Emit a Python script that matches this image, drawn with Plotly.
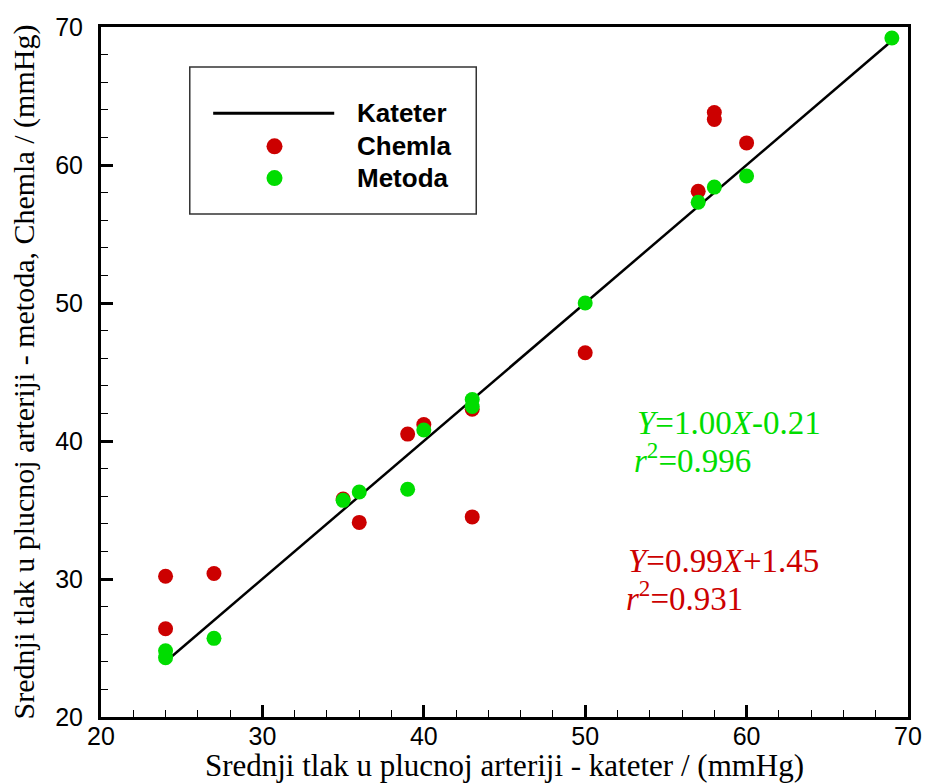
import plotly.graph_objects as go

# Data
kateter_x = [24, 69]
kateter_y = [24, 69]

chemla_x = [24, 24, 27, 35, 36, 39, 40, 43, 43, 50, 57, 58, 58, 60]
chemla_y = [30.2, 26.4, 30.4, 35.8, 34.1, 40.5, 41.2, 42.3, 34.5, 46.4, 58.1, 63.8, 63.3, 61.6]

metoda_x = [24, 24, 27, 35, 36, 39, 40, 43, 43, 50, 57, 58, 60, 69]
metoda_y = [24.8, 24.3, 25.7, 35.7, 36.3, 36.5, 40.8, 43.0, 42.5, 50.0, 57.3, 58.4, 59.2, 69.2]

x_ticks = [20, 30, 40, 50, 60, 70]
y_ticks = [20, 30, 40, 50, 60, 70]

RED = "#CC0000"
GREEN = "#00DD00"
SERIF = "Liberation Serif, Times New Roman, serif"
SANS = "Liberation Sans, Arial, sans-serif"

fig = go.Figure()
fig.add_trace(go.Scatter(x=kateter_x, y=kateter_y, mode="lines", name="Kateter",
                         line=dict(color="black", width=2.5), showlegend=False))
fig.add_trace(go.Scatter(x=chemla_x, y=chemla_y, mode="markers", name="Chemla",
                         marker=dict(color=RED, size=15, line=dict(width=0)), showlegend=False))
fig.add_trace(go.Scatter(x=metoda_x, y=metoda_y, mode="markers", name="Metoda",
                         marker=dict(color=GREEN, size=15, line=dict(width=0)), showlegend=False))

axis_common = dict(
    showgrid=False, zeroline=False, showline=True, linecolor="black", linewidth=3,
    mirror=True, ticks="inside", ticklen=12, tickwidth=3, tickcolor="black",
    tickfont=dict(family=SANS, size=25, color="black"),
    minor=dict(dtick=2, ticks="inside", ticklen=7, tickwidth=1, tickcolor="black"),
    automargin=False,
)

fig.update_xaxes(range=[20, 70], tickvals=x_ticks, ticklabelstandoff=-5,
                 title=dict(text="Srednji tlak u plucnoj arteriji - kateter / (mmHg)",
                            font=dict(family=SERIF, size=31, color="black"), standoff=8),
                 **axis_common)
fig.update_yaxes(range=[20, 70], tickvals=y_ticks, ticklabelstandoff=10,
                 title=dict(text="Srednji tlak u plucnoj arteriji - metoda, Chemla / (mmHg)",
                            font=dict(family=SERIF, size=30, color="black"), standoff=12),
                 **axis_common)

# Manual legend (paper coordinates)
shapes = [
    dict(type="rect", xref="paper", yref="paper", x0=0.110, x1=0.465, y0=0.729, y1=0.942,
         line=dict(color="#333333", width=1.5), fillcolor="white", layer="below"),
    dict(type="line", xref="paper", yref="paper", x0=0.139, x1=0.289, y0=0.875, y1=0.875,
         line=dict(color="black", width=3)),
    dict(type="circle", xref="paper", yref="paper", xsizemode="pixel", ysizemode="pixel",
         xanchor=0.215, yanchor=0.827, x0=-8, x1=8, y0=-8, y1=8,
         fillcolor=RED, line=dict(width=0)),
    dict(type="circle", xref="paper", yref="paper", xsizemode="pixel", ysizemode="pixel",
         xanchor=0.215, yanchor=0.781, x0=-8, x1=8, y0=-8, y1=8,
         fillcolor=GREEN, line=dict(width=0)),
]

annotations = []
for label, yp in [("Kateter", 0.875), ("Chemla", 0.827), ("Metoda", 0.781)]:
    annotations.append(dict(xref="paper", yref="paper", x=0.315, y=yp, xanchor="left",
                            yanchor="middle", showarrow=False,
                            text="<b>%s</b>" % label,
                            font=dict(family=SANS, size=26, color="black")))

eq_font_g = dict(family=SERIF, size=33, color=GREEN)
eq_font_r = dict(family=SERIF, size=33, color=RED)
annotations += [
    dict(x=53.1, y=41.3, xref="x", yref="y", xanchor="left", yanchor="middle", showarrow=False,
         text="<i>Y</i>=1.00<i>X</i>-0.21", font=eq_font_g),
    dict(x=52.9, y=38.8, xref="x", yref="y", xanchor="left", yanchor="middle", showarrow=False,
         text="<i>r</i><sup>2</sup>=0.996", font=eq_font_g),
    dict(x=52.5, y=31.3, xref="x", yref="y", xanchor="left", yanchor="middle", showarrow=False,
         text="<i>Y</i>=0.99<i>X</i>+1.45", font=eq_font_r),
    dict(x=52.4, y=28.8, xref="x", yref="y", xanchor="left", yanchor="middle", showarrow=False,
         text="<i>r</i><sup>2</sup>=0.931", font=eq_font_r),
]

fig.update_layout(
    width=925, height=783, autosize=False,
    margin=dict(l=101, r=17, t=27, b=66, autoexpand=False),
    paper_bgcolor="white", plot_bgcolor="white",
    shapes=shapes, annotations=annotations,
    showlegend=False,
)

fig.write_html("out.html", config={"displayModeBar": False},
               post_script="document.body.style.margin='0';document.body.style.overflow='hidden';")
